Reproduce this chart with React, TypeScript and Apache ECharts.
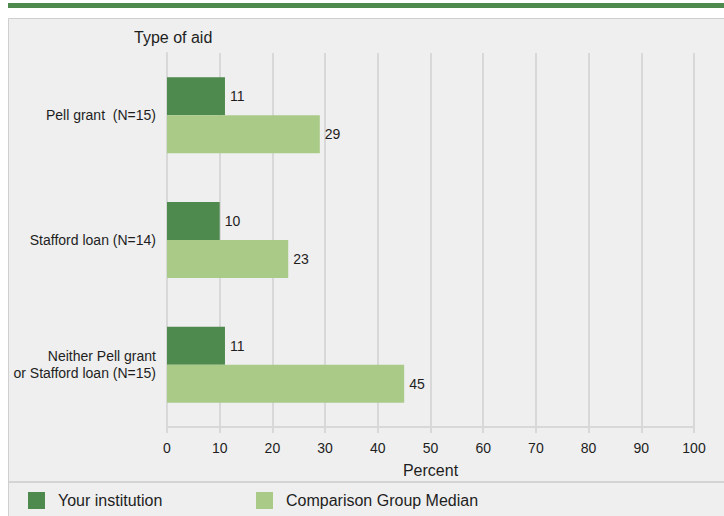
import React, { useEffect, useRef } from "react";
import * as echarts from "echarts";

const categories = ["Pell grant  (N=15)", "Stafford loan (N=14)", "Neither Pell grant\nor Stafford loan (N=15)"];
const yourInstitution = [11, 10, 11];
const comparisonMedian = [29, 23, 45];
const seriesNames = ["Your institution", "Comparison Group Median"];
const xTicks = { min: 0, max: 100, interval: 10 };

const FONT = "'Liberation Sans', Arial, sans-serif";
const DARK = "#4e894e";
const LIGHT = "#aacb88";
const GRID = "#d8d8d8";
const TEXT = "#1e1e1e";

export default function App() {
  const ref = useRef<HTMLDivElement>(null);
  useEffect(() => {
    if (!ref.current) return;
    const chart = echarts.init(ref.current, undefined, { renderer: "svg" });
    const labelStyle = {
      show: true,
      position: "right",
      distance: 5,
      fontSize: 14,
      color: TEXT,
      fontFamily: FONT,
    };
    const legendBase = {
      top: 492,
      padding: 0,
      itemWidth: 17,
      itemHeight: 17,
      icon: "rect",
      textStyle: { fontSize: 16, color: TEXT, fontFamily: FONT, padding: [0, 0, 0, 8] },
      selectedMode: false,
    };
    chart.setOption({
      animation: false,
      backgroundColor: "#ffffff",
      textStyle: { fontFamily: FONT },
      graphic: [
        { type: "rect", shape: { x: 8, y: 3, width: 716, height: 5 }, style: { fill: "#4e894e" }, z: 0 },
        {
          type: "rect",
          shape: { x: 8.5, y: 18.5, width: 720, height: 520 },
          style: { fill: "#efefef", stroke: "#cfcfcf", lineWidth: 1 },
          z: -10,
        },
        {
          type: "line",
          shape: { x1: 9, y1: 482, x2: 724, y2: 482 },
          style: { stroke: "#d4d4d4", lineWidth: 2 },
          z: 0,
        },
        {
          type: "text",
          x: 134,
          y: 37,
          style: { text: "Type of aid", fontSize: 16, fill: TEXT, fontFamily: FONT, verticalAlign: "middle" },
        },
      ],
      legend: [
        { ...legendBase, data: [seriesNames[0]], left: 28 },
        { ...legendBase, data: [seriesNames[1]], left: 256 },
      ],
      grid: { left: 167, right: 30, top: 53, bottom: 89, containLabel: false },
      xAxis: {
        type: "value",
        min: xTicks.min,
        max: xTicks.max,
        interval: xTicks.interval,
        name: "Percent",
        nameLocation: "middle",
        nameGap: 35,
        nameTextStyle: { fontSize: 16, color: TEXT, fontFamily: FONT },
        axisLine: { show: true, lineStyle: { color: GRID, width: 2 } },
        axisTick: { show: true, length: 6, lineStyle: { color: GRID, width: 2 } },
        axisLabel: { fontSize: 14, color: TEXT, fontFamily: FONT, margin: 14 },
        splitLine: { show: true, lineStyle: { color: GRID, width: 2 } },
      },
      yAxis: {
        type: "category",
        data: categories,
        inverse: true,
        axisLine: { show: true, lineStyle: { color: GRID, width: 2 } },
        axisTick: { show: false },
        axisLabel: { fontSize: 14, color: TEXT, fontFamily: FONT, margin: 11, lineHeight: 17, align: "right" },
        splitLine: { show: false },
      },
      series: [
        {
          name: seriesNames[0],
          type: "bar",
          data: yourInstitution,
          barWidth: 38,
          barGap: "0%",
          itemStyle: { color: DARK },
          label: labelStyle,
        },
        {
          name: seriesNames[1],
          type: "bar",
          data: comparisonMedian,
          barWidth: 38,
          barGap: "0%",
          itemStyle: { color: LIGHT },
          label: labelStyle,
        },
      ],
    });
    return () => chart.dispose();
  }, []);
  return (
    <div
      ref={ref}
      style={{ position: "fixed", left: 0, top: 0, width: 724, height: 516 }}
    />
  );
}
